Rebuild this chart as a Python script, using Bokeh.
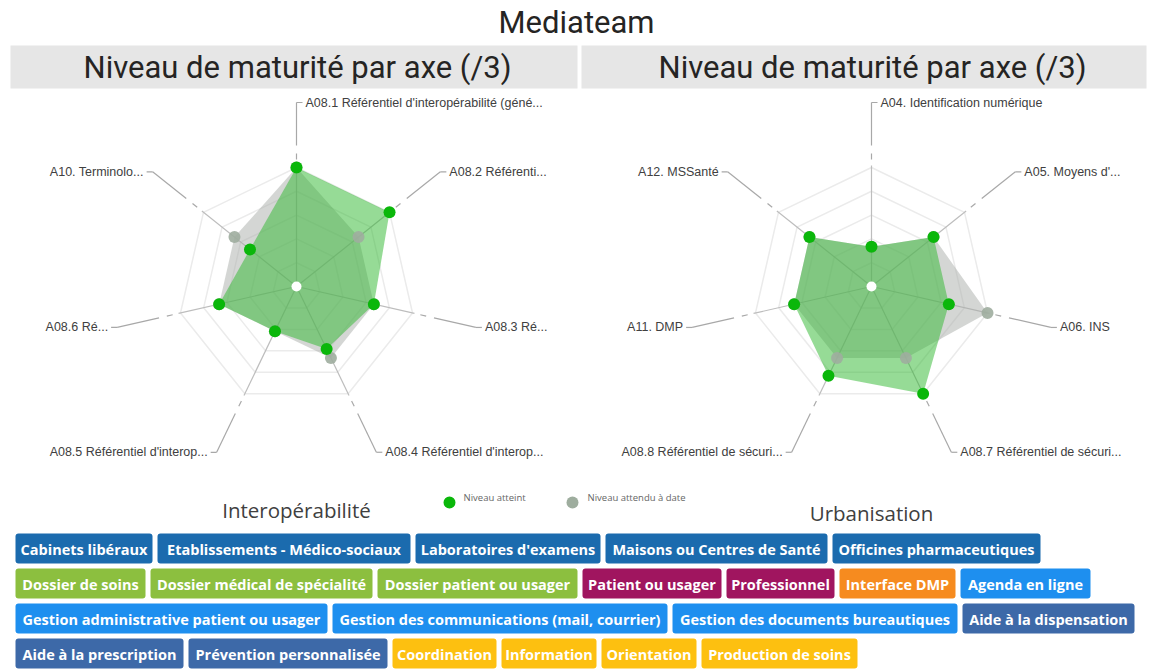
import math
from bokeh.plotting import figure
from bokeh.models import Range1d
from bokeh.embed import file_html
from bokeh.resources import INLINE
from bokeh.core.properties import value

# ---------------- data ----------------
TITLE = "Mediateam"
PANEL_TITLE = "Niveau de maturité par axe (/3)"
MAX_LEVEL = 3
GRID_LEVELS = 5

INTEROP_NAME = "Interopérabilité"
INTEROP_AXES = ["A08.1 Référentiel d'interopérabilité (géné...", "A08.2 Référenti...", "A08.3 Ré...",
                "A08.4 Référentiel d'interop...", "A08.5 Référentiel d'interop...", "A08.6 Ré...",
                "A10. Terminolo..."]
INTEROP_ATTEINT = [3, 3, 2, 1.75, 1.25, 2, 1.5]
INTEROP_ATTENDU = [3, 2, 2, 2, 1.25, 2, 2]

URBA_NAME = "Urbanisation"
URBA_AXES = ["A04. Identification numérique", "A05. Moyens d'...", "A06. INS",
             "A08.7 Référentiel de sécuri...", "A08.8 Référentiel de sécuri...", "A11. DMP",
             "A12. MSSanté"]
URBA_ATTEINT = [1, 2, 2, 3, 2.5, 2, 2]
URBA_ATTENDU = [1, 2, 3, 2, 2, 2, 2]

SERIES = ["Niveau atteint", "Niveau attendu à date"]

TAG_ROWS = [
    ["Cabinets libéraux", "Etablissements - Médico-sociaux", "Laboratoires d'examens",
     "Maisons ou Centres de Santé", "Officines pharmaceutiques"],
    ["Dossier de soins", "Dossier médical de spécialité", "Dossier patient ou usager",
     "Patient ou usager", "Professionnel", "Interface DMP", "Agenda en ligne"],
    ["Gestion administrative patient ou usager", "Gestion des communications (mail, courrier)",
     "Gestion des documents bureautiques", "Aide à la dispensation"],
    ["Aide à la prescription", "Prévention personnalisée", "Coordination", "Information",
     "Orientation", "Production de soins"],
]
TAG_GROUPS = [
    ["structure"] * 5,
    ["dossier", "dossier", "dossier", "acteur", "acteur", "dmp", "gestion"],
    ["gestion", "gestion", "gestion", "aide"],
    ["aide", "aide", "parcours", "parcours", "parcours", "parcours"],
]

# ---------------- styles / layout ----------------
GROUP_COLORS = {"structure": "#1B6BAE", "dossier": "#8CBF3F", "acteur": "#A0155F",
                "dmp": "#F68B1F", "gestion": "#1E8FEF", "aide": "#3D69A8", "parcours": "#FDC010"}
TAG_WIDTHS = [
    [137, 253, 185, 222, 208],
    [130, 222, 200, 139, 108, 116, 130],
    [312, 335, 285, 172],
    [168, 199, 104, 95, 95, 156],
]
TAG_X0, TAG_GAP, TAG_Y0, TAG_H, TAG_ROW_STEP = 15, 5, 533, 30, 35

GREEN = "#0AB70A"
GREEN_FILL = "#2DB82D"
GREY_PT = "#9EAD9E"
GREY_FILL = "#A9AEA9"
R = 119
R_EXT = 184

W, H = 1153, 670
p = figure(width=W, height=H, x_range=Range1d(0, W), y_range=Range1d(H, 0),
           output_backend="svg", toolbar_location=None, min_border=0,
           x_axis_location=None, y_axis_location=None)
p.grid.visible = False
p.outline_line_color = None
p.background_fill_color = "white"
p.border_fill_color = "white"

# Title
p.text(x=[576], y=[22], text=[TITLE], text_font=value("Roboto"), text_font_size="31px",
       text_align="center", text_baseline="middle", text_color="#252423")

# Header bands
p.quad(left=[10, 581], right=[577, 1146], top=[45, 45], bottom=[88, 88],
       fill_color="#E6E6E6", line_color=None)
p.text(x=[297, 872], y=[67, 67], text=[PANEL_TITLE, PANEL_TITLE], text_font=value("Roboto"),
       text_font_size="31px", text_align="center", text_baseline="middle", text_color="#252423")


def draw_radar(cx, cy, labels, atteint, attendu, name, name_y):
    n = len(labels)
    ang = [2 * math.pi * k / n for k in range(n)]
    sx = [math.sin(a) for a in ang]
    sy = [-math.cos(a) for a in ang]
    # grid
    gx, gy = [], []
    for lv in range(1, GRID_LEVELS + 1):
        rr = R * lv / GRID_LEVELS
        gx.append([cx + rr * s for s in sx] + [cx + rr * sx[0]])
        gy.append([cy + rr * s for s in sy] + [cy + rr * sy[0]])
    p.multi_line(gx, gy, line_color="#EBEBEB", line_width=1.5)
    # axes (solid inside, broken outside)
    segs = [(0, R + 2, "#BDBDBD"), (R + 8, R + 14, "#A8A8A8"), (R + 22, R_EXT, "#A8A8A8")]
    for r0, r1, col in segs:
        p.segment(x0=[cx + r0 * s for s in sx], y0=[cy + r0 * s for s in sy],
                  x1=[cx + r1 * s for s in sx], y1=[cy + r1 * s for s in sy],
                  line_color=col, line_width=1.2)
    # leader + labels
    ex = [cx + R_EXT * s for s in sx]
    ey = [cy + R_EXT * s for s in sy]
    right = [s >= -0.01 for s in sx]
    hx1 = [x + (6 if r else -6) for x, r in zip(ex, right)]
    p.segment(x0=ex, y0=ey, x1=hx1, y1=ey, line_color="#A8A8A8", line_width=1.2)
    for x, y, lab, r in zip(hx1, ey, labels, right):
        p.text(x=[x + (3 if r else -3)], y=[y], text=[lab], text_font=value("Liberation Sans"),
               text_font_size="12.5px", text_align="left" if r else "right",
               text_baseline="middle", text_color="#404040")
    # series
    def pts(vals):
        xs = [cx + v / MAX_LEVEL * R * s for v, s in zip(vals, sx)]
        ys = [cy + v / MAX_LEVEL * R * s for v, s in zip(vals, sy)]
        return xs, ys
    axd, ayd = pts(attendu)
    axa, aya = pts(atteint)
    p.patch(axd, ayd, fill_color=GREY_FILL, fill_alpha=0.5, line_color=None)
    p.patch(axa, aya, fill_color=GREEN_FILL, fill_alpha=0.5, line_color=None)
    p.scatter(axd, ayd, size=12, fill_color=GREY_PT, fill_alpha=0.9, line_color=None)
    p.scatter(axa, aya, size=12, fill_color=GREEN, line_color=None)
    p.scatter([cx], [cy], size=10, fill_color="white", line_color=None)
    # chart name
    p.text(x=[cx], y=[name_y], text=[name], text_font=value("Open Sans"), text_font_size="20.5px",
           text_align="center", text_baseline="middle", text_color="#404040")


draw_radar(296, 286, INTEROP_AXES, INTEROP_ATTEINT, INTEROP_ATTENDU, INTEROP_NAME, 509)
draw_radar(871, 286, URBA_AXES, URBA_ATTEINT, URBA_ATTENDU, URBA_NAME, 512)

# Legend
p.scatter([449, 572], [502, 502], size=12, fill_color=[GREEN, GREY_PT], line_color=None)
p.text(x=[463, 587], y=[497, 497], text=SERIES, text_font=value("Open Sans"),
       text_font_size="9.5px", text_align="left", text_baseline="middle", text_color="#666666")

# Tags
L, Rr, T, B, C, TX, TY, TT = [], [], [], [], [], [], [], []
for ri, (row, grp, wid) in enumerate(zip(TAG_ROWS, TAG_GROUPS, TAG_WIDTHS)):
    x = TAG_X0
    top = TAG_Y0 + ri * TAG_ROW_STEP
    for lab, g, w in zip(row, grp, wid):
        L.append(x); Rr.append(x + w); T.append(top); B.append(top + TAG_H)
        C.append(GROUP_COLORS[g]); TX.append(x + w / 2); TY.append(top + TAG_H / 2 + 0.5)
        TT.append(lab)
        x += w + TAG_GAP
p.quad(left=L, right=Rr, top=T, bottom=B, fill_color=C, line_color=None, border_radius=3)
p.text(x=TX, y=TY, text=TT, text_font=value("Open Sans"), text_font_size="14.5px",
       text_font_style="bold", text_align="center", text_baseline="middle", text_color="white")

open("out.html", "w").write(file_html(p, INLINE))
